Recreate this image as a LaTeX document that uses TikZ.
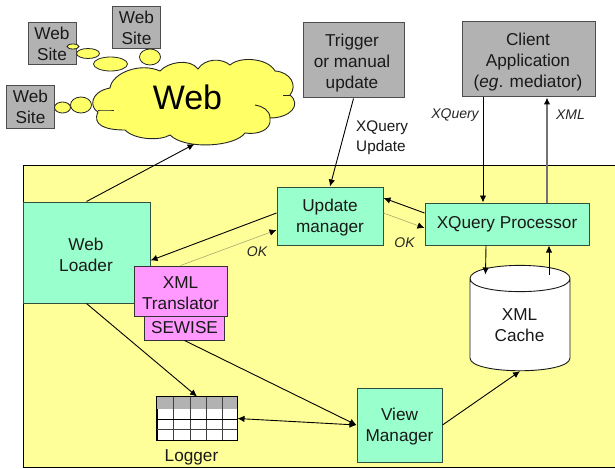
\documentclass[tikz,border=0pt]{standalone}
\usepackage{fontspec}
\setmainfont{Liberation Sans}
\usetikzlibrary{arrows.meta,shapes.geometric}
\definecolor{panelY}{HTML}{FFFF99}
\definecolor{cloudY}{HTML}{FFFF66}
\definecolor{tealF}{HTML}{99FFCC}
\definecolor{magF}{HTML}{FF99FF}
\definecolor{greyF}{HTML}{B2B2B2}
\definecolor{edgeD}{HTML}{2F4F3F}
\definecolor{okline}{HTML}{A8A870}
\tikzset{
  bodyfont/.style={font=\fontsize{17.2}{21}\selectfont, text=black!90},
  boxbase/.style={line width=1pt, inner sep=0pt, align=center, bodyfont},
  greybox/.style={boxbase, draw=black!70, fill=greyF},
  tealbox/.style={boxbase, draw=edgeD, fill=tealF},
  magbox/.style={boxbase, draw=black!80, fill=magF},
  textonly/.style={bodyfont, align=center, inner sep=0pt},
  bubble/.style={ellipse, draw=black!85, fill=cloudY, line width=0.8pt, inner sep=0pt},
  lab/.style={font=\fontsize{14}{17}\selectfont\itshape, text=black!85, inner sep=0pt},
  plainlab/.style={font=\fontsize{15.3}{19.5}\selectfont, text=black!90, inner sep=0pt, align=left},
  arr/.style={-{Latex[length=7pt,width=6.5pt]}, draw=black, line width=0.9pt},
  darr/.style={{Latex[length=7pt,width=6.5pt]}-{Latex[length=7pt,width=6.5pt]}, draw=black, line width=0.9pt},
  okarr/.style={-{Latex[length=7pt,width=6.5pt,black]}, draw=okline, line width=0.6pt},
  greyarr/.style={-{Latex[length=7pt,width=6.5pt,black]}, draw=black!55, line width=1.2pt},
}
\begin{document}
\begin{tikzpicture}[x=1pt,y=-1pt]
\useasboundingbox (0,0) rectangle (615,468);
\fill[white] (0,0) rectangle (615,468);
% panel
\path[fill=panelY] (23,165.5) rectangle (615,467);
\draw[black, line width=0.9pt] (615,165.5) -- (23,165.5) -- (23,467) -- (615,467);
% web site boxes
\node[greybox, minimum width=48pt, minimum height=42pt] (siteA) at (52,44) {Web\\Site};
\node[greybox, minimum width=48pt, minimum height=42pt] (siteB) at (136.5,28) {Web\\Site};
\node[greybox, minimum width=48pt, minimum height=42pt] (siteC) at (30.5,107) {Web\\Site};
% cloud
\draw[black!85, fill=cloudY, line width=0.9pt]
  (110,88) .. controls (112,73) and (140,62) .. (160,71)
  .. controls (168,62) and (190,58) .. (198,69)
  .. controls (205,58) and (222,58) .. (230,65)
  .. controls (240,56) and (268,58) .. (275,71)
  .. controls (290,72) and (298,85) .. (290,95)
  .. controls (302,105) and (290,118) .. (270,118)
  .. controls (272,130) and (258,135) .. (245,133)
  .. controls (235,147) and (185,150) .. (170,135)
  .. controls (160,141) and (135,140) .. (125,130)
  .. controls (105,130) and (92,125) .. (98,112)
  .. controls (90,108) and (89,92) .. (110,88) -- cycle;
\draw[black!85, line width=0.9pt] (98,110) .. controls (102,110) and (108,110) .. (114,110);
\draw[black!85, line width=0.9pt] (255,105) .. controls (262,106) and (270,110) .. (270,118);
\draw[black!85, line width=0.9pt] (283,95) -- (290,95);
\node[font=\fontsize{34}{40}\selectfont, text=black, inner sep=0pt] (web) at (187.5,97) {Web};
\coordinate (webtip) at (194.5,144);
% bubbles
\node[bubble, minimum width=12pt, minimum height=5pt] (b1) at (73,46.5) {};
\node[bubble, minimum width=23pt, minimum height=10pt] (b2) at (88,53.5) {};
\node[bubble, minimum width=34pt, minimum height=14pt] (b3) at (110.5,64) {};
\node[bubble, minimum width=21pt, minimum height=16pt] (b4) at (150,57) {};
\node[bubble, minimum width=16pt, minimum height=11pt] (b5) at (62.5,107.5) {};
\node[bubble, minimum width=21pt, minimum height=16pt] (b6) at (81,105) {};
% top grey boxes
\node[greybox, minimum width=101pt, minimum height=75pt] (trigger) at (353.5,60.5) {};
\node[textonly] (triggerT) at (352,63) {Trigger\\or manual\\update};
\node[greybox, minimum width=133pt, minimum height=75pt] (client) at (528.5,59.5) {};
\node[textonly] (clientT) at (528,62) {Client\\Application\\(\textit{eg}. mediator)};
% main boxes
\node[tealbox, minimum width=127pt, minimum height=101pt] (loader) at (86.5,252.5) {};
\node[textonly] (loaderT) at (86,255) {Web\\Loader};
\node[tealbox, minimum width=106pt, minimum height=58pt] (um) at (330,216) {};
\node[textonly] (umT) at (330,218) {Update\\manager};
\node[tealbox, minimum width=164pt, minimum height=42pt] (xqp) at (507,224) {XQuery Processor};
% cylinder
\draw[black!90, fill=white, line width=0.9pt] (470,278.5) -- (470,358)
  .. controls (470,375) and (570,375) .. (570,358) -- (570,278.5)
  .. controls (570,261) and (470,261) .. (470,278.5)
  .. controls (470,296) and (570,296) .. (570,278.5);
\node[minimum width=100pt, minimum height=106pt, inner sep=0pt] (cache) at (520,318) {};
\node[textonly] (cacheT) at (519.5,325) {XML\\Cache};
% translator
\node[magbox, minimum width=79.5pt, minimum height=24pt] (sewise) at (184.5,328) {SEWISE};
\node[magbox, minimum width=93pt, minimum height=50pt] (trans) at (180.5,291) {};
\node[textonly] (transT) at (180.5,293) {XML\\Translator};
% view manager
\node[tealbox, minimum width=85pt, minimum height=74pt] (view) at (399.5,425) {};
\node[textonly] (viewT) at (399.5,427) {View\\Manager};
% logger table
\node[fill=white, draw=black, line width=1pt, minimum width=80pt, minimum height=43pt, inner sep=0pt] (log) at (197,418.5) {};
\fill[greyF] (log.north west) rectangle ([yshift=-12pt]log.north east);
\foreach \xx in {173,190,206,222} \draw[black!75, line width=1pt] (\xx,397) -- (\xx,440);
\draw[black, line width=1pt] (157,419) -- (237,419);
\draw[black!75, line width=1pt] (157,429) -- (237,429);
\draw[black, line width=1pt] (log.north west) rectangle (log.south east);
\node[textonly] (logT) at (191.5,457) {Logger};
% connectors
\draw[arr] (loader.north) -- (webtip);
\draw[arr] (trigger.south) -- (um.north);
\draw[arr] ([yshift=11pt]xqp.west) -- ([yshift=18pt]um.east);
\draw[okarr] ([yshift=3pt]um.east) -- ([yshift=-4pt]xqp.west);
\draw[arr] ([yshift=3pt]um.west) -- ([yshift=-8pt]loader.east);
\draw[okarr] (trans.north) -- ([yshift=-14pt]um.west);
\draw[arr] (client.south -| 483,0) -- (xqp.north -| 483,0);
\draw[greyarr] (xqp.north -| 547,0) -- (client.south -| 547,0);
\draw[arr] (xqp.south -| 486,0) -- (485.5,274.5);
\draw[arr] (549,275) -- (xqp.south -| 549,0);
\draw[arr] (loader.south) -- (log.north);
\draw[arr] (sewise.south) -- (view.west);
\draw[darr] (log.east) -- (view.west);
\draw[arr] (view.east) -- (cache.south);
% labels
\node[plainlab, anchor=west] (upd) at (356,137.5) {XQuery\\Update};
\node[lab] (xq) at (455,115) {XQuery};
\node[lab] (xm) at (570.5,115) {XML};
\node[lab] (ok1) at (257,252) {OK};
\node[lab] (ok2) at (404.5,243) {OK};
\end{tikzpicture}
\end{document}
